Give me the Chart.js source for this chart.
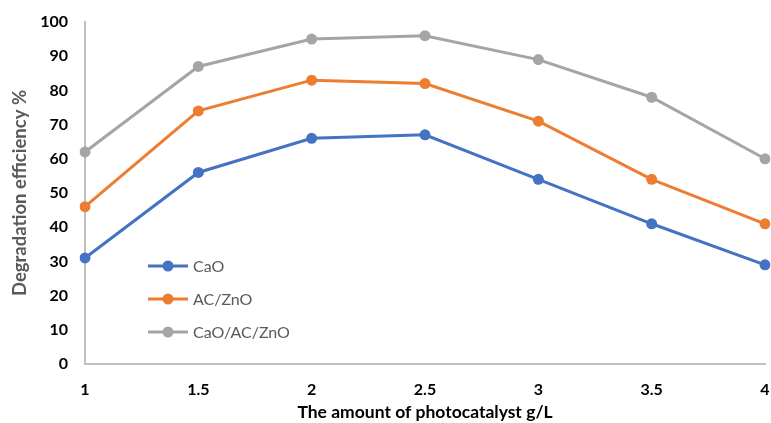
<!DOCTYPE html>
<html>
<head>
<meta charset="utf-8">
<script src="https://cdn.jsdelivr.net/npm/chart.js@4/dist/chart.umd.min.js"></script>
<style>
  html, body { margin: 0; padding: 0; background: #fff; }
  #wrap { width: 771px; height: 423px; }
</style>
</head>
<body>
<div id="wrap"><canvas id="chart" width="771" height="423"></canvas></div>
<script>
// photocatalyst dose (g/L) and degradation efficiency (%)
var doses = ['1', '1.5', '2', '2.5', '3', '3.5', '4'];
var cao = [31, 56, 66, 67, 54, 41, 29];
var acZno = [46, 74, 83, 82, 71, 54, 41];
var caoAcZno = [62, 87, 95, 96, 89, 78, 60];
var yTicks = [0, 10, 20, 30, 40, 50, 60, 70, 80, 90, 100];

var FONT = 'Lato, "Open Sans", sans-serif';

function makeSet(label, values, color) {
    return {
        label: label,
        data: values,
        borderColor: color,
        backgroundColor: color,
        borderWidth: 3,
        pointRadius: 5.5,
        pointHoverRadius: 5.5,
        pointBorderWidth: 0,
        tension: 0
    };
}

// legend drawn inside the plot, line + marker + label
var innerLegend = {
    id: 'innerLegend',
    afterDraw: function(chart) {
        var ctx = chart.ctx;
        var x0 = 148, x1 = 188, tx = 193;
        var rows = [266, 299, 332];
        ctx.save();
        ctx.font = '16px ' + FONT;
        ctx.textBaseline = 'middle';
        chart.data.datasets.forEach(function(ds, i) {
            var y = rows[i];
            ctx.strokeStyle = ds.borderColor;
            ctx.lineWidth = 3;
            ctx.beginPath();
            ctx.moveTo(x0, y);
            ctx.lineTo(x1, y);
            ctx.stroke();
            ctx.fillStyle = ds.borderColor;
            ctx.beginPath();
            ctx.arc((x0 + x1) / 2, y, 5.5, 0, Math.PI * 2);
            ctx.fill();
            ctx.fillStyle = '#595959';
            ctx.fillText(ds.label, tx, y + 1);
        });
        ctx.restore();
    }
};

var ctx = document.getElementById('chart');
var myChart = new Chart(ctx, {
    type: 'line',
    data: {
        labels: doses,
        datasets: [
            makeSet('CaO', cao, '#4472C4'),
            makeSet('AC/ZnO', acZno, '#ED7D31'),
            makeSet('CaO/AC/ZnO', caoAcZno, '#A5A5A5')
        ]
    },
    options: {
        responsive: false,
        animation: false,
        layout: { padding: { top: 22, right: 6, left: 0, bottom: 0 } },
        plugins: {
            legend: { display: false },
            tooltip: { enabled: false }
        },
        scales: {
            x: {
                offset: false,
                grid: { display: false, drawTicks: false },
                border: { display: true, color: '#BFBFBF', width: 2 },
                ticks: {
                    padding: 16,
                    color: '#000',
                    font: { family: FONT, size: 16, weight: 'bold' },
                    maxRotation: 0,
                    autoSkip: false
                },
                title: {
                    display: true,
                    text: 'The amount of photocatalyst g/L',
                    color: '#000',
                    font: { family: FONT, size: 17.5, weight: 'bold' },
                    padding: { top: 0, bottom: 0 }
                },
                afterFit: function(s) {
                    s.height = 59;
                    s.paddingLeft = 0;
                    s.paddingRight = 0;
                }
            },
            y: {
                min: 0,
                max: 100,
                afterBuildTicks: function(s) {
                    s.ticks = yTicks.map(function(v) { return { value: v }; });
                },
                grid: { display: false, drawTicks: false },
                border: { display: true, color: '#BFBFBF', width: 2 },
                ticks: {
                    padding: 17,
                    color: '#000',
                    font: { family: FONT, size: 16, weight: 'bold' }
                },
                title: {
                    display: true,
                    text: 'Degradation efficiency %',
                    color: '#595959',
                    font: { family: FONT, size: 18.5, weight: 'bold' },
                    padding: { top: 9, bottom: 0 }
                },
                afterFit: function(s) {
                    s.width = 85;
                    s.paddingTop = 0;
                    s.paddingBottom = 0;
                }
            }
        }
    },
    plugins: [innerLegend]
});
</script>
</body>
</html>
